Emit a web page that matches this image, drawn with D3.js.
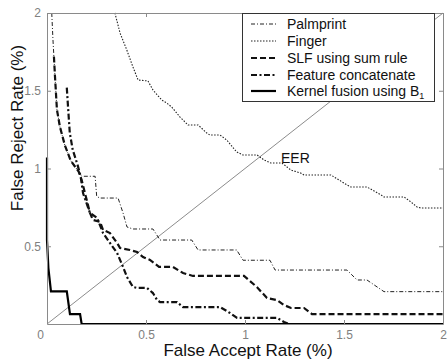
<!DOCTYPE html>
<html><head><meta charset="utf-8">
<script src="https://cdn.jsdelivr.net/npm/d3@7"></script>
<style>body{margin:0;background:#fff}svg{display:block}text{font-family:"Liberation Sans",Arial,sans-serif}</style>
</head><body>
<svg id="c" width="448" height="360"></svg>
<script>
const xTicks = [0, 0.5, 1, 1.5, 2];
const yTicks = [0.5, 1, 1.5, 2];
const seriesNames = ["Palmprint", "Finger", "SLF using sum rule", "Feature concatenate", "Kernel fusion using B"];
const palmX = [0.024,0.03,0.04,0.05,0.065,0.09,0.12,0.16,0.175,0.183,0.243,0.251,0.268,0.359,0.384,0.404,0.434,0.535,0.571,0.731,0.763,0.958,0.99,1.126,1.152,1.515,1.566,1.616,1.702,2];
const palmY = [2.0,1.83,1.6,1.38,1.27,1.15,1.05,0.98,0.95,0.95,0.95,0.82,0.81,0.81,0.714,0.624,0.611,0.611,0.54,0.54,0.476,0.476,0.41,0.41,0.347,0.347,0.283,0.283,0.208,0.208];
const fingX = [0.343,0.369,0.403,0.434,0.46,0.51,0.535,0.579,0.605,0.63,0.672,0.712,0.763,0.807,0.823,0.874,0.908,0.958,0.99,1.061,1.096,1.131,1.187,1.232,1.281,1.298,1.434,1.475,1.515,1.535,1.616,1.687,1.702,1.803,1.838,1.869,1.889,2];
const fingY = [2.0,1.871,1.762,1.653,1.569,1.563,1.505,1.441,1.421,1.395,1.331,1.28,1.28,1.228,1.215,1.215,1.183,1.106,1.087,1.087,1.055,1.035,1.035,0.99,0.971,0.958,0.958,0.926,0.894,0.881,0.881,0.83,0.817,0.817,0.785,0.752,0.746,0.746];
const slfX = [0.035,0.04,0.05,0.065,0.09,0.12,0.16,0.175,0.2,0.217,0.232,0.268,0.283,0.318,0.354,0.369,0.419,0.455,0.485,0.52,0.566,0.636,0.687,0.737,0.995,1.06,1.111,1.162,1.197,1.232,1.298,1.338,2];
const slfY = [1.72,1.6,1.38,1.27,1.15,1.05,0.98,0.926,0.8,0.714,0.669,0.656,0.605,0.585,0.521,0.489,0.476,0.463,0.431,0.412,0.367,0.367,0.328,0.309,0.309,0.238,0.167,0.154,0.122,0.103,0.103,0.064,0.064];
const fcX = [0.1,0.105,0.115,0.13,0.155,0.17,0.182,0.217,0.253,0.283,0.318,0.354,0.384,0.404,0.434,0.455,0.505,0.535,0.556,0.571,0.657,0.687,0.874,0.924,0.96,1.162,1.197,1.222,2];
const fcY = [1.52,1.42,1.23,1.12,1.02,0.95,0.842,0.714,0.682,0.585,0.521,0.457,0.367,0.302,0.238,0.232,0.232,0.199,0.154,0.141,0.141,0.109,0.109,0.071,0.039,0.039,0.013,0,0];
const kerX = [0,0,0.007,0.02,0.1,0.116,0.167,0.175,2];
const kerY = [1.07,0.54,0.36,0.21,0.21,0.064,0.064,0,0];

const svg = d3.select("#c");
const x = d3.scaleLinear().domain([0, 2]).range([47, 443]);
const y = d3.scaleLinear().domain([0, 2]).range([324, 13]);
const frame = "#8a8a8a", tickCol = "#808080";

svg.append("line").attr("x1", x(0)).attr("y1", y(0)).attr("x2", x(2)).attr("y2", y(2))
  .attr("stroke", "#8c8c8c").attr("stroke-width", 1);

const styles = [
  {w: 1, dash: "4,2,1,2", col: "#222"},
  {w: 1.1, dash: "1.5,1.5", col: "#222"},
  {w: 2.2, dash: "6,3", col: "#111"},
  {w: 2.2, dash: "6,2.5,2,2.5", col: "#111"},
  {w: 2.2, dash: null, col: "#000"}
];
const data = [[palmX, palmY], [fingX, fingY], [slfX, slfY], [fcX, fcY], [kerX, kerY]];
const line = d3.line().x(d => x(d[0])).y(d => y(d[1]));
data.forEach((s, i) => {
  const pts = s[0].map((v, j) => [v, s[1][j]]);
  svg.append("path").attr("d", line(pts)).attr("fill", "none")
    .attr("stroke", styles[i].col).attr("stroke-width", styles[i].w)
    .attr("stroke-dasharray", styles[i].dash);
});

function style(g) {
  g.select(".domain").attr("stroke", frame);
  g.selectAll(".tick line").attr("stroke", frame);
  g.selectAll("text").attr("fill", tickCol).attr("font-size", 12);
}
const gx = svg.append("g").attr("transform", `translate(0,${y(0)})`)
  .call(d3.axisBottom(x).tickValues(xTicks).tickSizeInner(-4).tickSizeOuter(0).tickPadding(6).tickFormat(d3.format("")));
style(gx);
gx.selectAll(".tick text").filter(d => d === 0).attr("dx", -7);
const gy = svg.append("g").attr("transform", `translate(${x(0)},0)`)
  .call(d3.axisLeft(y).tickValues(yTicks).tickSizeInner(-4).tickSizeOuter(0).tickPadding(6).tickFormat(d3.format("")));
style(gy);
const gt = svg.append("g").attr("transform", `translate(0,${y(2)})`)
  .call(d3.axisTop(x).tickValues(xTicks).tickSizeInner(-4).tickSizeOuter(0).tickFormat(""));
style(gt);
const gr = svg.append("g").attr("transform", `translate(${x(2)},0)`)
  .call(d3.axisRight(y).tickValues(yTicks).tickSizeInner(-4).tickSizeOuter(0).tickFormat(""));
style(gr);

svg.append("text").attr("x", 248).attr("y", 356).attr("text-anchor", "middle")
  .attr("font-size", 17).attr("fill", "#111").text("False Accept Rate (%)");
svg.append("text").attr("transform", "translate(23,128) rotate(-90)").attr("text-anchor", "middle")
  .attr("font-size", 17).attr("fill", "#111").text("False Reject Rate (%)");

svg.append("text").attr("x", 281).attr("y", 163).attr("font-size", 14).attr("fill", "#111").text("EER");

const lg = svg.append("g");
lg.append("rect").attr("x", 242.5).attr("y", 13.5).attr("width", 192).attr("height", 88)
  .attr("fill", "#fff").attr("stroke", "#333").attr("stroke-width", 1);
const ly = [24, 41, 58, 75, 91];
seriesNames.forEach((n, i) => {
  lg.append("line").attr("x1", 251).attr("x2", 276).attr("y1", ly[i]).attr("y2", ly[i])
    .attr("stroke", styles[i].col).attr("stroke-width", styles[i].w).attr("stroke-dasharray", styles[i].dash);
  const t = lg.append("text").attr("x", 287).attr("y", ly[i] + 5).attr("font-size", 14).attr("fill", "#111").text(n);
  if (i === 4) t.append("tspan").attr("font-size", 9).attr("dy", 3).text("1");
});
</script>
</body></html>
